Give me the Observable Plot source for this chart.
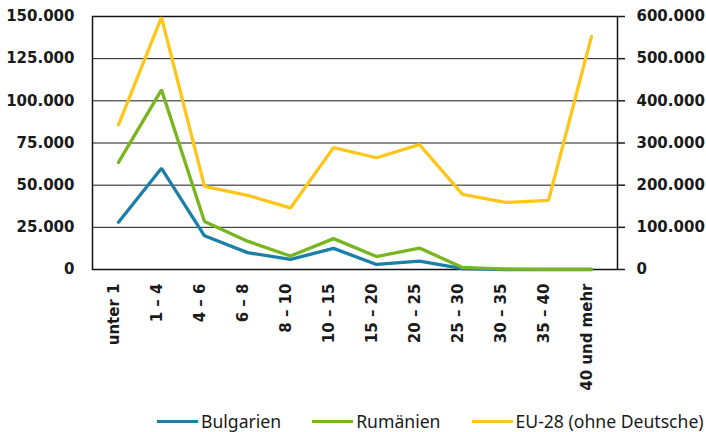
<!DOCTYPE html>
<html><head><meta charset="utf-8">
<script src="https://cdn.jsdelivr.net/npm/d3@7"></script>
<script src="https://cdn.jsdelivr.net/npm/@observablehq/plot@0.6"></script>
<style>
body{margin:0;background:#fff;width:706px;height:432px;overflow:hidden;}
#chart svg{display:block}
.legend{height:30px;margin-top:6px;font-family:"Noto Sans";font-size:17.6px;color:#1a1a1a;display:flex;align-items:center;padding-left:157px}
.item{display:flex;align-items:center;margin-right:31px;white-space:nowrap}
.sw{width:41px;height:3px;margin-right:3px}
</style></head><body>
<div id="chart"></div>
<script>
const categories = ["unter 1","1 – 4","4 – 6","6 – 8","8 – 10","10 – 15","15 – 20","20 – 25","25 – 30","30 – 35","35 – 40","40 und mehr"];
const bulgarien = [28000, 60000, 20000, 10000, 6000, 12500, 3000, 5000, 500, 0, 0, 0];
const rumaenien = [63500, 106500, 28500, 16800, 8000, 18300, 7700, 12700, 1200, 200, 100, 100];
const eu28 = [343000, 598000, 197000, 176000, 146000, 289000, 265000, 296000, 178000, 159000, 164000, 553000];
const seriesNames = ["Bulgarien", "Rumänien", "EU-28 (ohne Deutsche)"];
const seriesColors = ["#1b7fa8", "#78b51e", "#ffc61a"];
const leftTicks = [0, 25000, 50000, 75000, 100000, 125000, 150000];
const rightTicks = [0, 100000, 200000, 300000, 400000, 500000, 600000];

const de = d3.formatLocale({decimal: ",", thousands: ".", grouping: [3], currency: ["", "€"]});
const fmt = de.format(",d");
const ratio = d3.max(rightTicks) / d3.max(leftTicks);
const seriesValues = [bulgarien, rumaenien, eu28];
const rows = [];
seriesNames.forEach((s, si) => {
  categories.forEach((c, i) => {
    rows.push({cat: c, s, v: seriesValues[si][i], right: si === 2});
  });
});

const chart = Plot.plot({
  width: 706, height: 400,
  marginTop: 16, marginBottom: 131, marginLeft: 92, marginRight: 89,
  style: {fontFamily: "DejaVu Sans", fontSize: "15px", fontWeight: "bold", color: "#1a1a1a", background: "#fff"},
  x: {type: "point", domain: categories, padding: 0.5, label: null},
  y: {domain: [0, d3.max(leftTicks)], label: null},
  color: {domain: seriesNames, range: seriesColors},
  marks: [
    Plot.ruleY(leftTicks.slice(1, -1), {stroke: "#1a1a1a", strokeWidth: 1}),
    Plot.frame({stroke: "#111", strokeWidth: 1.5}),
    Plot.axisY({ticks: leftTicks, anchor: "left", tickSize: 0, tickPadding: 18, tickFormat: fmt, label: null}),
    Plot.axisY({ticks: rightTicks.map(v => v / ratio), anchor: "right", tickSize: 7, tickPadding: 12, tickFormat: d => fmt(Math.round(d * ratio)), label: null, strokeWidth: 1.5}),
    Plot.axisX({tickSize: 0, tickRotate: -90, tickPadding: 14, label: null, dx: -4}),
    Plot.lineY(rows, {x: "cat", y: d => d.right ? d.v / ratio : d.v, z: "s", stroke: "s", strokeWidth: 3.3, strokeLinejoin: "miter"})
  ]
});
document.getElementById("chart").append(chart);

const legend = document.createElement("div");
legend.className = "legend";
seriesNames.forEach((s, i) => {
  const it = document.createElement("div");
  it.className = "item";
  const sw = document.createElement("span");
  sw.className = "sw";
  sw.style.background = seriesColors[i];
  const t = document.createElement("span");
  t.textContent = s;
  it.append(sw, t);
  legend.append(it);
});
document.body.append(legend);
</script>
</body></html>
